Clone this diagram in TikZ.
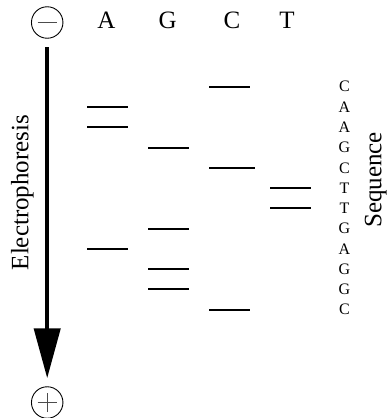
\documentclass[tikz,border=0pt]{standalone}
\usepackage{fontspec}
\setmainfont{Liberation Serif}
\usetikzlibrary{arrows.meta}
\begin{document}
\begin{tikzpicture}[x=1pt,y=-1pt,
  band/.style={line width=2pt},
  pole/.style={draw, circle, line width=0.9pt, minimum size=31.5pt, inner sep=0pt},
  sign/.style={line width=1pt, black!70},
  lane/.style={font=\fontsize{25}{25}\selectfont, anchor=base},
  seq/.style={font=\fontsize{16}{16}\selectfont},
  axis/.style={font=\fontsize{25}{25}\selectfont, rotate=90, anchor=base},
  flow/.style={line width=4.3pt, -{Triangle[width=26pt,length=50pt]}, shorten <=8.5pt, shorten >=8pt}]
\useasboundingbox (0,0) rectangle (387,418);
% poles
\node[pole] (minus) at (47.2,22.5) {};
\node[pole] (plus) at (47.2,402.5) {};
\draw[sign] ([xshift=-9.7pt]minus.center) -- ([xshift=9.7pt]minus.center);
\draw[sign] ([xshift=-9.5pt]plus.center) -- ([xshift=9.5pt]plus.center);
\draw[sign] ([yshift=-9.5pt]plus.center) -- ([yshift=9.5pt]plus.center);
\draw[flow] (minus) -- (plus);
% lane labels
\node[lane] (la) at (106.5,28) {A};
\node[lane] (lg) at (167.7,28) {G};
\node[lane] (lc) at (232,28) {C};
\node[lane] (lt) at (287,28) {T};
% bands
\draw[band] (87.3,107) -- (128,107);
\draw[band] (87.3,127.3) -- (128,127.3);
\draw[band] (87.3,249) -- (128,249);
\draw[band] (148.3,147.7) -- (189,147.7);
\draw[band] (148.3,228.7) -- (189,228.7);
\draw[band] (148.3,269.3) -- (189,269.3);
\draw[band] (148.3,289.3) -- (189,289.3);
\draw[band] (209.3,86.7) -- (250,86.7);
\draw[band] (209.3,167.7) -- (255,167.7);
\draw[band] (209.3,309.7) -- (250,309.7);
\draw[band] (270,187.7) -- (310.7,187.7);
\draw[band] (270,208.3) -- (310.7,208.3);
% sequence letters
\foreach \l [count=\k from 0] in {C,A,A,G,C,T,T,G,A,G,G,C}
  \node[seq] (s\k) at (344.5,86.7+20.27*\k) {\l};
% axis labels
\node[axis] (elec) at (28.3,192.5) {Electrophoresis};
\node[axis] (sequ) at (381.3,180) {Sequence};
\end{tikzpicture}
\end{document}
